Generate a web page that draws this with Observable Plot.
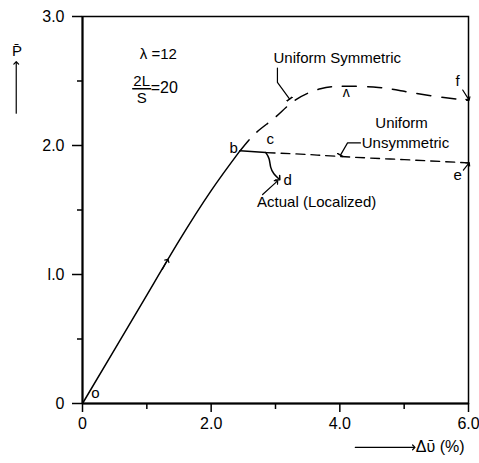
<!DOCTYPE html>
<html><head><meta charset="utf-8">
<script src="https://cdn.jsdelivr.net/npm/d3@7"></script>
<script src="https://cdn.jsdelivr.net/npm/@observablehq/plot@0.6"></script>
<style>body{margin:0;background:#fff}svg{overflow:visible}</style>
</head><body><div id="chart"></div>
<script>
// axes
const xTicks = [0, 2, 4, 6];
const xTickLabels = ["0", "2.0", "4.0", "6.0"];
const xMinor = [1, 3, 5];
const yTicks = [0, 1, 2, 3];
const yTickLabels = ["0", "l.0", "2.0", "3.0"];
const yMinor = [0.5, 1.5, 2.5];

// curves (Δv %, P)
const loadingX = [0, 0.5, 1.0, 1.5, 2.0, 2.45];
const loadingY = [0, 0.42, 0.84, 1.26, 1.65, 1.96];
const bcX = [2.45, 2.85];
const bcY = [1.96, 1.945];
const actualX = [2.85, 2.9, 2.925, 2.975, 3.05];
const actualY = [1.945, 1.897, 1.832, 1.781, 1.742];
const symX = [2.45, 2.7, 3.0, 3.3, 3.7, 4.1, 4.6, 5.0, 5.5, 6.0];
const symY = [1.96, 2.1, 2.22, 2.35, 2.44, 2.46, 2.45, 2.42, 2.38, 2.35];
const unsymX = [2.85, 3.5, 4.0, 5.0, 6.0];
const unsymY = [1.945, 1.93, 1.915, 1.89, 1.865];

// annotations
const centerLabels = [
  {x: 1.18, y: 2.71, text: "λ =12"},
  {x: 0.92, y: 2.50, text: "2L"},
  {x: 0.92, y: 2.37, text: "S"},
  {x: 3.96, y: 2.68, text: "Uniform Symmetric"},
  {x: 4.96, y: 2.17, text: "Uniform"},
  {x: 5.02, y: 2.02, text: "Unsymmetric"},
  {x: 3.64, y: 1.56, text: "Actual (Localized)"},
  {x: 2.35, y: 1.98, text: "b"},
  {x: 2.92, y: 2.05, text: "c"},
  {x: 3.19, y: 1.73, text: "d"},
  {x: 5.83, y: 1.77, text: "e"},
  {x: 5.83, y: 2.50, text: "f"},
  {x: 0.2, y: 0.08, text: "o"},
  {x: -1.02, y: 2.73, text: "P̄"}
];
const startLabels = [
  {x: 1.06, y: 2.45, text: "=20"},
  {x: 5.18, y: -0.34, text: "Δῡ (%)"}
];
const fracBar = [{x: 0.78, y: 2.44}, {x: 1.06, y: 2.44}];
const peakMark = [{x: 4.1, y: 2.41, text: "ʌ"}];
const tickLeaders = [
  {id: "sym", x: 3.03, y: 2.60}, {id: "sym", x: 3.03, y: 2.49}, {id: "sym", x: 3.22, y: 2.36},
  {id: "uns", x: 4.32, y: 2.02}, {id: "uns", x: 4.12, y: 2.02}, {id: "uns", x: 4.01, y: 1.925}
];
const arrowLeaders = [
  {id: "act", x: 2.80, y: 1.62}, {id: "act", x: 3.02, y: 1.72},
  {id: "f", x: 5.91, y: 2.43}, {id: "f", x: 6.0, y: 2.36},
  {id: "e", x: 5.92, y: 1.81}, {id: "e", x: 6.0, y: 1.86},
  {id: "mid", x: 1.24, y: 1.04}, {id: "mid", x: 1.32, y: 1.11},
  {id: "yax", x: -1.03, y: 2.25}, {id: "yax", x: -1.03, y: 2.64},
  {id: "xax", x: 4.24, y: -0.34}, {id: "xax", x: 5.15, y: -0.34}
];

const pts = (xs, ys) => xs.map((x, i) => ({x, y: ys[i]}));
const xLab = new Map(xTicks.map((t, i) => [t, xTickLabels[i]]));
const yLab = new Map(yTicks.map((t, i) => [t, yTickLabels[i]]));

const chart = Plot.plot({
  width: 479, height: 463,
  marginLeft: 82, marginRight: 11, marginTop: 16, marginBottom: 60,
  x: {domain: [0, 6]},
  y: {domain: [0, 3]},
  style: {fontFamily: "Liberation Sans, Arial, sans-serif", fontSize: "16px", color: "black", background: "white", overflow: "visible"},
  marks: [
    Plot.frame({stroke: "black", strokeWidth: 1.5}),
    Plot.ruleX([0], {stroke: "black", strokeWidth: 2}),
    Plot.ruleY([0], {stroke: "black", strokeWidth: 2}),
    Plot.axisX(xTicks, {tickSize: 9, tickPadding: 5, tickFormat: d => xLab.get(d), fontSize: 16, label: null, strokeWidth: 1.5}),
    Plot.axisX(xMinor, {tickSize: 6, tickFormat: null, text: null, label: null, strokeWidth: 1.5}),
    Plot.axisY(yTicks, {tickSize: 10, tickPadding: 8, tickFormat: d => yLab.get(d), fontSize: 16, label: null, strokeWidth: 1.5}),
    Plot.axisY(yMinor, {tickSize: 5, tickFormat: null, text: null, label: null, strokeWidth: 1.5}),
    Plot.line(pts(loadingX, loadingY), {x: "x", y: "y", stroke: "black", strokeWidth: 1.5, curve: "natural"}),
    Plot.line(pts(bcX, bcY), {x: "x", y: "y", stroke: "black", strokeWidth: 1.5}),
    Plot.line(pts(actualX, actualY), {x: "x", y: "y", stroke: "black", strokeWidth: 1.5, curve: "natural", markerEnd: "arrow"}),
    Plot.line(pts(symX, symY), {x: "x", y: "y", stroke: "black", strokeWidth: 1.5, curve: "natural", strokeDasharray: "14,11"}),
    Plot.line(pts(unsymX, unsymY), {x: "x", y: "y", stroke: "black", strokeWidth: 1.3, curve: "natural", strokeDasharray: "9,6"}),
    Plot.line(tickLeaders, {x: "x", y: "y", z: "id", stroke: "black", strokeWidth: 1.2, markerEnd: "tick"}),
    Plot.line(arrowLeaders, {x: "x", y: "y", z: "id", stroke: "black", strokeWidth: 1.2, markerEnd: "arrow"}),
    Plot.line(fracBar, {x: "x", y: "y", stroke: "black", strokeWidth: 1.3}),
    Plot.text(peakMark, {x: "x", y: "y", text: "text", fontSize: 14, fill: "black"}),
    Plot.text(centerLabels, {x: "x", y: "y", text: "text", fontSize: 15, fill: "black"}),
    Plot.text(startLabels, {x: "x", y: "y", text: "text", fontSize: 16, fill: "black", textAnchor: "start"})
  ]
});
document.getElementById("chart").append(chart);
</script></body></html>
